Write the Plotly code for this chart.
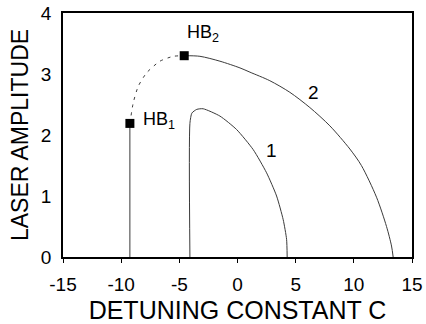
import plotly.graph_objects as go

# Curve 1 (solid)
c1_x = [-4.09, -4.09, -3.92, -3.5, -2.95, -1.51, -0.08, 1.35, 2.5, 3.36, 3.93, 4.22, 4.27]
c1_y = [0, 2.19, 2.36, 2.42, 2.43, 2.31, 2.09, 1.76, 1.38, 1.0, 0.61, 0.29, 0]

# Curve 2: vertical stable part up to HB1
c2v_x = [-9.25, -9.25]
c2v_y = [0, 2.19]
# Curve 2: dashed part between HB1 and HB2
c2d_x = [-9.25, -8.96, -8.53, -7.81, -6.67, -5.52, -4.58]
c2d_y = [2.19, 2.53, 2.80, 3.02, 3.21, 3.29, 3.30]
# Curve 2: solid part from HB2
c2s_x = [-4.58, -3.23, -1.51, 0.21, 1.07, 2.78, 4.50, 6.22, 7.94, 9.66, 10.65, 11.95, 12.81, 13.24, 13.38]
c2s_y = [3.30, 3.29, 3.21, 3.10, 3.03, 2.89, 2.70, 2.45, 2.15, 1.77, 1.50, 0.98, 0.50, 0.18, 0]

# Hopf bifurcation points
hb_x = [-9.25, -4.58]
hb_y = [2.19, 3.30]
hb_labels = ["HB<sub>1</sub>", "HB<sub>2</sub>"]
hb_label_x = [-6.75, -2.95]
hb_label_y = [2.24, 3.66]

curve_labels = ["1", "2"]
curve_label_x = [2.96, 6.56]
curve_label_y = [1.74, 2.70]

x_ticks = [-15, -10, -5, 0, 5, 10, 15]
x_tick_text = ["-15", "-10", "-5", "0", "5", "10", "15"]
y_ticks = [0, 1, 2, 3, 4]
y_tick_text = ["0", "1", "2", "3", "4"]

line_col = "#3a3a3a"
FONT = "Liberation Sans, Arial, sans-serif"

fig = go.Figure()
fig.add_trace(go.Scatter(x=c1_x, y=c1_y, mode="lines",
                         line=dict(color=line_col, width=1, shape="spline", smoothing=0.6)))
fig.add_trace(go.Scatter(x=c2v_x, y=c2v_y, mode="lines",
                         line=dict(color=line_col, width=1)))
fig.add_trace(go.Scatter(x=c2d_x, y=c2d_y, mode="lines",
                         line=dict(color=line_col, width=1, dash="3px,5px", shape="spline", smoothing=0.6)))
fig.add_trace(go.Scatter(x=c2s_x, y=c2s_y, mode="lines",
                         line=dict(color=line_col, width=1, shape="spline", smoothing=0.8)))
fig.add_trace(go.Scatter(x=hb_x, y=hb_y, mode="markers",
                         marker=dict(symbol="square", size=9, color="black")))

for t, x, y in zip(hb_labels, hb_label_x, hb_label_y):
    fig.add_annotation(x=x, y=y, text=t, showarrow=False, xref="x", yref="y",
                       font=dict(family=FONT, size=18, color="black"))
for t, x, y in zip(curve_labels, curve_label_x, curve_label_y):
    fig.add_annotation(x=x, y=y, text=t, showarrow=False, xref="x", yref="y",
                       font=dict(family=FONT, size=19, color="black"))

fig.update_layout(
    width=426, height=324,
    margin=dict(l=63, r=14, t=13, b=67, autoexpand=False),
    plot_bgcolor="white", paper_bgcolor="white",
    showlegend=False,
    font=dict(family=FONT, color="black"),
)
fig.update_xaxes(range=[-15, 15], tickvals=x_ticks, ticktext=x_tick_text,
                 ticks="outside", ticklen=4, ticklabelstandoff=5, automargin=False,
                 tickcolor="black", showgrid=False, zeroline=False,
                 showline=True, linecolor="black", linewidth=1.5, mirror=True,
                 tickfont=dict(size=19),
                 title=dict(text="DETUNING CONSTANT C", font=dict(size=25), standoff=10))
fig.update_yaxes(range=[0, 4], tickvals=y_ticks, ticktext=y_tick_text, ticks="",
                 ticklabelstandoff=6, automargin=False, showgrid=False, zeroline=False,
                 showline=True, linecolor="black", linewidth=1.5, mirror=True,
                 tickfont=dict(size=19),
                 title=dict(text="LASER AMPLITUDE", font=dict(size=23), standoff=6))

fig.write_html("out.html", config={"displayModeBar": False},
               post_script="document.body.style.margin='0';document.body.style.padding='0';")
